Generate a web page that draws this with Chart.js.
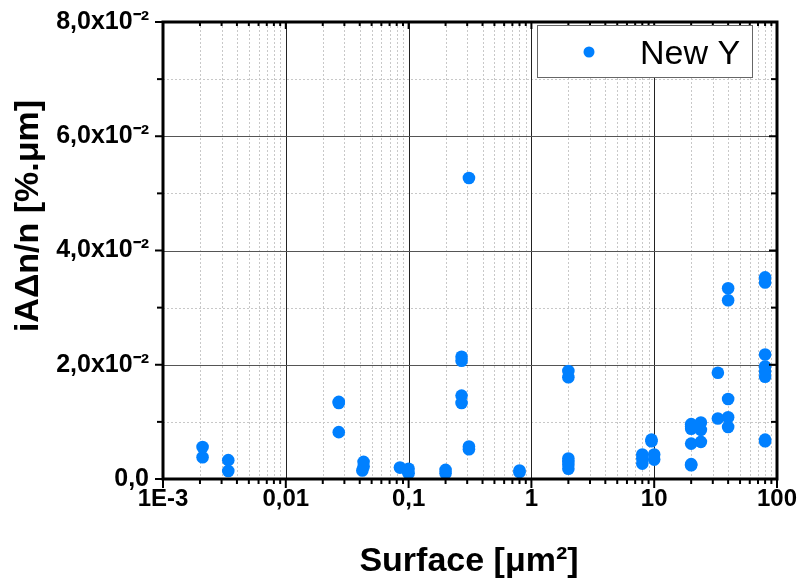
<!DOCTYPE html>
<html><head><meta charset="utf-8">
<script src="https://cdn.jsdelivr.net/npm/chart.js@4/dist/chart.umd.min.js"></script>
<style>html,body{margin:0;padding:0;background:#fff}#wrap{width:798px;height:583px}</style>
</head><body><div id="wrap"><canvas id="c" width="798" height="583"></canvas></div>
<script>
// ---- data ----
const surfaces = [
  0.0021, 0.0021,
  0.0034, 0.0034,
  0.027, 0.027, 0.027,
  0.043, 0.043, 0.042,
  0.085, 0.1, 0.1, 0.098,
  0.2, 0.2,
  0.27, 0.27, 0.27, 0.27,
  0.31, 0.31, 0.31,
  0.8, 0.8,
  2, 2, 2, 2, 2, 2,
  8, 8, 8,
  9.5, 9.5,
  10, 10,
  20, 20, 20, 20, 20, 20,
  24, 24, 24,
  33, 33,
  40, 40, 40, 40, 40,
  80, 80, 80, 80, 80, 80, 80, 80
];
const values = [
  0.0056, 0.0038,
  0.0033, 0.0014,
  0.0135, 0.0133, 0.0082,
  0.0030, 0.0022, 0.0015,
  0.0020, 0.0018, 0.0010, 0.0014,
  0.0016, 0.0010,
  0.0214, 0.0207, 0.0146, 0.0133,
  0.0527, 0.0057, 0.0052,
  0.0015, 0.0012,
  0.0189, 0.0178, 0.0036, 0.0030, 0.0025, 0.0018,
  0.0043, 0.0036, 0.0027,
  0.0069, 0.0066,
  0.0043, 0.0034,
  0.0096, 0.0092, 0.0088, 0.0062, 0.0026, 0.0024,
  0.0099, 0.0086, 0.0065,
  0.0186, 0.0106,
  0.0334, 0.0313, 0.0140, 0.0108, 0.0091,
  0.0353, 0.0344, 0.0218, 0.0197, 0.0188, 0.0179, 0.0069, 0.0066
];
const xTickValues = [0.001, 0.01, 0.1, 1, 10, 100];
const xTickLabels = ['1E-3', '0,01', '0,1', '1', '10', '100'];
const yTickValues = [0, 0.02, 0.04, 0.06, 0.08];
const yTickLabels = ['0,0', '2,0x10\u207B\u00B2', '4,0x10\u207B\u00B2', '6,0x10\u207B\u00B2', '8,0x10\u207B\u00B2'];
const seriesName = 'New Y';
const xTitle = 'Surface [\u03BCm\u00B2]';
const yTitle = 'iA\u0394n/n [%.\u03BCm]';

// ---- styles ----
const pointColor = 'rgb(0,128,255)';
const FONT = "'Liberation Sans', Arial, sans-serif";

const framePlugin = {
  id: 'frame',
  beforeDatasetsDraw(chart) {
    const {ctx, chartArea: a} = chart;
    const xs = chart.scales.x, ys = chart.scales.y;
    ctx.save();
    const line = (x1, y1, x2, y2) => { ctx.beginPath(); ctx.moveTo(x1, y1); ctx.lineTo(x2, y2); ctx.stroke(); };
    // minor grid
    ctx.strokeStyle = '#c8c8c8'; ctx.lineWidth = 1; ctx.setLineDash([2, 2]);
    for (let i = 0; i < xTickValues.length - 1; i++) {
      for (let m = 2; m <= 9; m++) {
        const px = Math.round(xs.getPixelForValue(xTickValues[i] * m)) + 0.5;
        line(px, a.top, px, a.bottom);
      }
    }
    for (let i = 0; i < yTickValues.length - 1; i++) {
      const py = Math.round(ys.getPixelForValue((yTickValues[i] + yTickValues[i + 1]) / 2)) + 0.5;
      line(a.left, py, a.right, py);
    }
    // major grid
    ctx.setLineDash([]);
    ctx.strokeStyle = '#222';
    for (let i = 1; i < xTickValues.length - 1; i++) {
      const px = Math.round(xs.getPixelForValue(xTickValues[i])) + 0.5;
      line(px, a.top, px, a.bottom);
    }
    ctx.strokeStyle = '#555';
    for (let i = 1; i < yTickValues.length - 1; i++) {
      const py = Math.round(ys.getPixelForValue(yTickValues[i])) + 0.5;
      line(a.left, py, a.right, py);
    }
    ctx.restore();
  },
  afterDatasetsDraw(chart) {
    const {ctx, chartArea: a} = chart;
    const xs = chart.scales.x, ys = chart.scales.y;
    ctx.save();
    const line = (x1, y1, x2, y2) => { ctx.beginPath(); ctx.moveTo(x1, y1); ctx.lineTo(x2, y2); ctx.stroke(); };
    ctx.strokeStyle = '#000';
    // ticks
    ctx.lineWidth = 2;
    for (let i = 0; i < xTickValues.length; i++) {
      const px = xs.getPixelForValue(xTickValues[i]);
      line(px, a.bottom, px, a.bottom + 9);
      line(px, a.top, px, a.top + 7);
      if (i < xTickValues.length - 1) {
        for (let m = 2; m <= 9; m++) {
          const pm = xs.getPixelForValue(xTickValues[i] * m);
          line(pm, a.bottom, pm, a.bottom + 5);
          line(pm, a.top, pm, a.top + 4);
        }
      }
    }
    for (let i = 0; i < yTickValues.length; i++) {
      const py = ys.getPixelForValue(yTickValues[i]);
      line(a.left - 8, py, a.left, py);
      line(a.right, py, a.right - 8, py);
      if (i < yTickValues.length - 1) {
        const pm = ys.getPixelForValue((yTickValues[i] + yTickValues[i + 1]) / 2);
        line(a.left - 6, pm, a.left, pm);
        line(a.right, pm, a.right - 6, pm);
      }
    }
    // frame
    ctx.lineWidth = 3;
    ctx.strokeRect(a.left, a.top, a.right - a.left, a.bottom - a.top);
    // legend
    ctx.lineWidth = 1;
    ctx.fillStyle = '#fff';
    ctx.fillRect(537.5, 25.5, 215, 52);
    ctx.strokeStyle = '#666';
    ctx.strokeRect(537.5, 25.5, 215, 52);
    ctx.fillStyle = pointColor;
    ctx.beginPath(); ctx.arc(589, 52, 5.5, 0, Math.PI * 2); ctx.fill();
    ctx.fillStyle = '#000';
    ctx.font = '34px ' + FONT;
    ctx.textAlign = 'left'; ctx.textBaseline = 'alphabetic';
    ctx.fillText(seriesName, 640, 64);
    // axis titles
    ctx.font = 'bold 34px ' + FONT;
    ctx.textAlign = 'center';
    ctx.fillText(xTitle, 469, 571);
    ctx.translate(38, 216);
    ctx.rotate(-Math.PI / 2);
    ctx.font = 'bold 34px ' + FONT;
    ctx.fillText(yTitle, 0, 0);
    ctx.restore();
  }
};

new Chart(document.getElementById('c'), {
  type: 'scatter',
  data: {
    datasets: [{
      label: seriesName,
      data: surfaces.map((x, i) => ({x: x, y: values[i]})),
      backgroundColor: pointColor,
      borderWidth: 0,
      pointRadius: 6.3,
      pointHoverRadius: 6.3
    }]
  },
  options: {
    responsive: false,
    animation: false,
    events: [],
    layout: {padding: {top: 22, right: 21, left: 0, bottom: 0}},
    plugins: {legend: {display: false}, tooltip: {enabled: false}},
    scales: {
      x: {
        type: 'logarithmic', min: 0.001, max: 100,
        afterBuildTicks: s => { s.ticks = xTickValues.map(v => ({value: v})); },
        afterFit: s => { s.height = 104; s.paddingLeft = 0; s.paddingRight = 0; },
        grid: {display: false, drawTicks: false},
        border: {display: false},
        ticks: {
          autoSkip: false, maxRotation: 0, minRotation: 0, padding: 6,
          color: '#000', font: {family: FONT, size: 24, weight: 'bold'},
          callback: (v, i) => xTickLabels[i]
        }
      },
      y: {
        type: 'linear', min: 0, max: 0.08,
        afterBuildTicks: s => { s.ticks = yTickValues.map(v => ({value: v})); },
        afterFit: s => { s.width = 163; s.paddingTop = 0; s.paddingBottom = 0; },
        grid: {display: false, drawTicks: false},
        border: {display: false},
        ticks: {
          padding: 14,
          color: '#000', font: {family: FONT, size: 25, weight: 'bold'},
          callback: (v, i) => yTickLabels[i]
        }
      }
    }
  },
  plugins: [framePlugin]
});
</script>
</body></html>
